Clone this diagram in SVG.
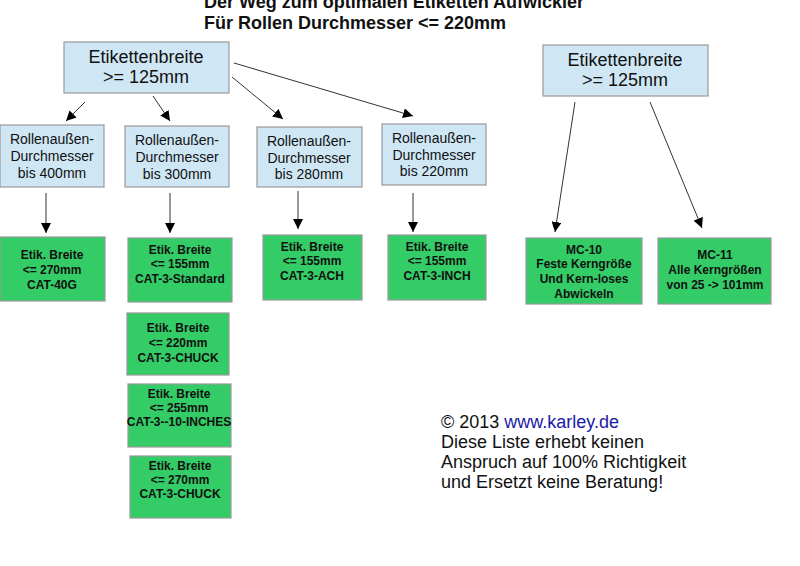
<svg xmlns="http://www.w3.org/2000/svg" width="800" height="566" viewBox="0 0 800 566">
<style>
text{font-family:"Liberation Sans",Arial,sans-serif;text-anchor:middle;fill:#111}
.title{font-weight:bold;font-size:18px;text-anchor:start}
.blue{fill:#cfe7f5;stroke:#999;stroke-width:1.2}
.green{fill:#33cc66;stroke:#999;stroke-width:1.2}
.big{font-size:18px}
.mid{font-size:14px}
.g{font-size:12px;font-weight:bold}
.foot{font-size:18px;text-anchor:start}
.conn line{stroke:#333;stroke-width:1;marker-end:url(#ah)}
</style>
<defs>
<marker id="ah" viewBox="0 0 10 10" refX="10" refY="5" markerWidth="10" markerHeight="10" markerUnits="userSpaceOnUse" orient="auto">
<path d="M0,0 L10,5 L0,10 z" fill="#000"/>
</marker>
</defs>
<rect width="800" height="566" fill="#fff"/>
<text class="title" x="204" y="8">Der Weg zum optimalen Etiketten Aufwickler</text>
<text class="title" x="204" y="29">Für Rollen Durchmesser &lt;= 220mm</text>

<g id="top1"><rect class="blue" x="64" y="42" width="165" height="51"/>
<text class="big" x="146" y="63">Etikettenbreite</text><text class="big" x="146" y="83">&gt;= 125mm</text></g>
<g id="top2"><rect class="blue" x="543" y="45" width="165" height="51"/>
<text class="big" x="625" y="66">Etikettenbreite</text><text class="big" x="625" y="86">&gt;= 125mm</text></g>

<g id="r400"><rect class="blue" x="0" y="125" width="104" height="62"/>
<text class="mid" x="52" y="144">Rollenaußen-</text><text class="mid" x="52" y="161">Durchmesser</text><text class="mid" x="52" y="178">bis 400mm</text></g>
<g id="r300"><rect class="blue" x="125" y="126" width="104" height="61"/>
<text class="mid" x="177" y="145">Rollenaußen-</text><text class="mid" x="177" y="162">Durchmesser</text><text class="mid" x="177" y="179">bis 300mm</text></g>
<g id="r280"><rect class="blue" x="257" y="127" width="105" height="60"/>
<text class="mid" x="309" y="146">Rollenaußen-</text><text class="mid" x="309" y="163">Durchmesser</text><text class="mid" x="309" y="179">bis 280mm</text></g>
<g id="r220"><rect class="blue" x="382" y="124" width="104" height="61"/>
<text class="mid" x="434" y="143">Rollenaußen-</text><text class="mid" x="434" y="160">Durchmesser</text><text class="mid" x="434" y="176">bis 220mm</text></g>

<g id="cat40g"><rect class="green" x="0" y="237" width="105" height="64"/>
<text class="g" x="52" y="259">Etik. Breite</text><text class="g" x="52" y="274">&lt;= 270mm</text><text class="g" x="52" y="289">CAT-40G</text></g>
<g id="cat3std"><rect class="green" x="128" y="238" width="104" height="64"/>
<text class="g" x="180" y="254">Etik. Breite</text><text class="g" x="180" y="268">&lt;= 155mm</text><text class="g" x="180" y="283">CAT-3-Standard</text></g>
<g id="cat3chuck1"><rect class="green" x="127" y="313" width="102" height="62"/>
<text class="g" x="178" y="332">Etik. Breite</text><text class="g" x="178" y="347">&lt;= 220mm</text><text class="g" x="178" y="362">CAT-3-CHUCK</text></g>
<g id="cat310"><rect class="green" x="128" y="384" width="103" height="63"/>
<text class="g" x="179" y="398">Etik. Breite</text><text class="g" x="179" y="412">&lt;= 255mm</text><text class="g" x="179" y="426">CAT-3--10-INCHES</text></g>
<g id="cat3chuck2"><rect class="green" x="130" y="456" width="101" height="62"/>
<text class="g" x="180" y="470">Etik. Breite</text><text class="g" x="180" y="484">&lt;= 270mm</text><text class="g" x="180" y="498">CAT-3-CHUCK</text></g>
<g id="cat3ach"><rect class="green" x="263" y="235" width="99" height="65"/>
<text class="g" x="312" y="251">Etik. Breite</text><text class="g" x="312" y="265">&lt;= 155mm</text><text class="g" x="312" y="280">CAT-3-ACH</text></g>
<g id="cat3inch"><rect class="green" x="388" y="235" width="98" height="65"/>
<text class="g" x="437" y="251">Etik. Breite</text><text class="g" x="437" y="265">&lt;= 155mm</text><text class="g" x="437" y="280">CAT-3-INCH</text></g>
<g id="mc10"><rect class="green" x="526" y="238" width="116" height="66"/>
<text class="g" x="584" y="254">MC-10</text><text class="g" x="584" y="268">Feste Kerngröße</text><text class="g" x="584" y="283">Und Kern-loses</text><text class="g" x="584" y="298">Abwickeln</text></g>
<g id="mc11"><rect class="green" x="658" y="238" width="113" height="66"/>
<text class="g" x="715" y="259">MC-11</text><text class="g" x="715" y="274">Alle Kerngrößen</text><text class="g" x="715" y="289">von 25 -&gt; 101mm</text></g>

<g class="conn" id="connectors">
<line x1="85" y1="102" x2="66" y2="121"/>
<line x1="153" y1="96" x2="170" y2="121"/>
<line x1="232" y1="77" x2="283" y2="119"/>
<line x1="234" y1="63" x2="413" y2="116"/>
<line x1="46" y1="193" x2="46" y2="233"/>
<line x1="170" y1="193" x2="170" y2="233"/>
<line x1="298" y1="191" x2="298" y2="229"/>
<line x1="413" y1="193" x2="413" y2="232"/>
<line x1="575" y1="102" x2="555" y2="232"/>
<line x1="650" y1="102" x2="702" y2="228"/>
</g>

<g id="footer">
<text class="foot" x="441" y="428">© 2013 <tspan fill="#1a1aa6">www.karley.de</tspan></text>
<text class="foot" x="441" y="448">Diese Liste erhebt keinen</text>
<text class="foot" x="441" y="468">Anspruch auf 100% Richtigkeit</text>
<text class="foot" x="441" y="488">und Ersetzt keine Beratung!</text>
</g>
</svg>
